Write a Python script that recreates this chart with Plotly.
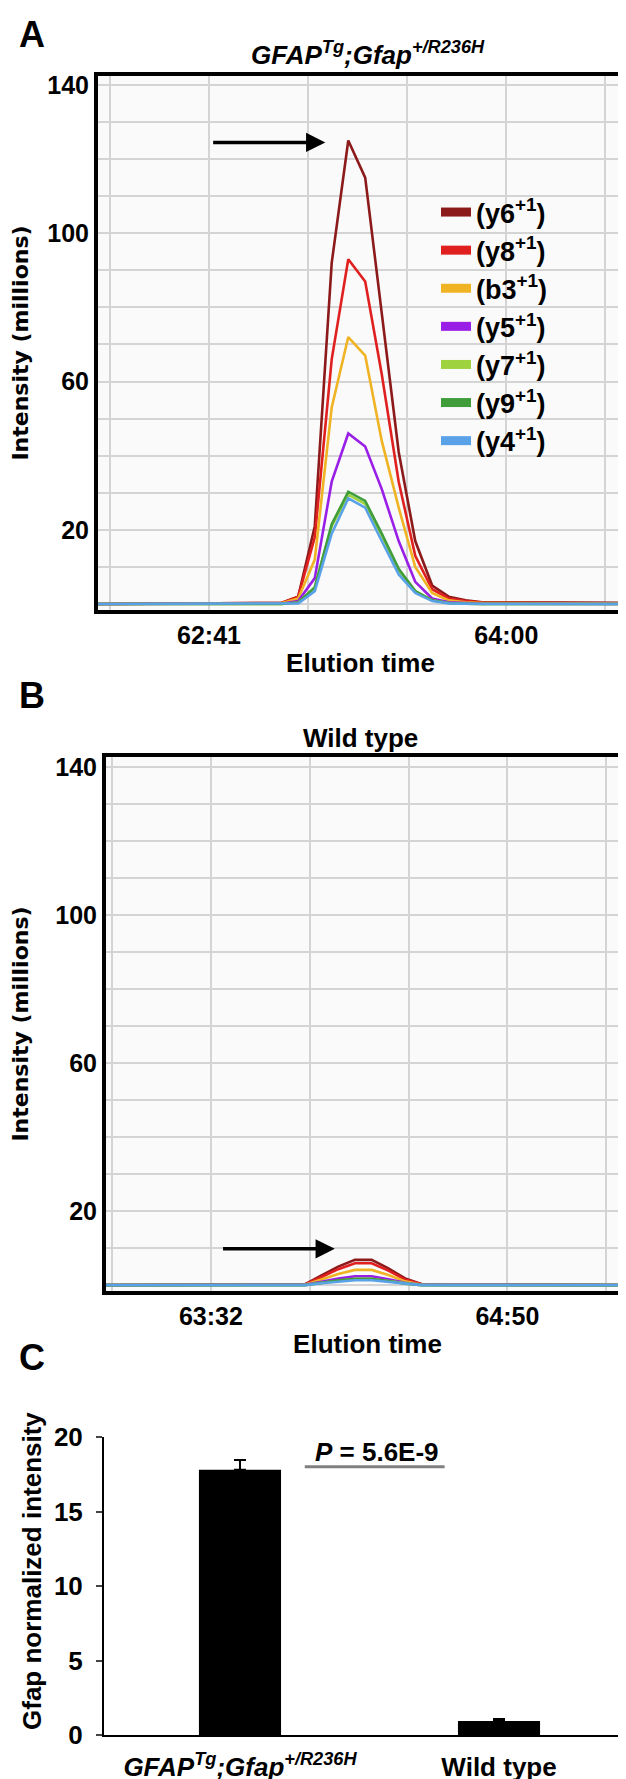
import plotly.graph_objects as go

# figure size in px (paper coords are derived from this)
W, H = 626, 1779
FONT = "Liberation Sans, Arial, Helvetica, sans-serif"
WIDE_FONT = "DejaVu Sans, Liberation Sans, Arial, sans-serif"

# --- Panel A: GFAPTg;Gfap+/R236H chromatogram (time in seconds) ---
A_TIMES = [3731.5, 3780.2, 3784.7, 3789.1, 3793.6, 3798.0, 3802.5, 3806.9,
           3811.4, 3815.8, 3820.3, 3824.7, 3829.2, 3833.6, 3871.0]
A_Y6 = [0, 0.3, 2.0, 21, 92, 125, 115, 78, 41, 17, 5, 2.0, 1.0, 0.5, 0.3]
A_Y8 = [0, 0.3, 2.0, 18, 66, 93, 87, 62, 33, 13, 4, 1.5, 0.8, 0.4, 0.2]
A_B3 = [0, 0.2, 1.5, 12, 53, 72, 67, 44, 26, 10, 3, 1.0, 0.5, 0.3, 0.1]
A_Y5 = [0, 0.1, 0.8, 7, 33, 46, 42.5, 31, 17, 6, 1.5, 0.5, 0.3, 0.1, 0]
A_Y7 = [0, 0, 0.4, 4.5, 21, 29.5, 27, 18.5, 9, 3.5, 1.0, 0.3, 0.1, 0, 0]
A_Y9 = [0, 0, 0.4, 4.5, 21.5, 30.3, 27.8, 19, 9.5, 3.5, 1.0, 0.3, 0.1, 0, 0]
A_Y4 = [0, 0, 0.2, 3.5, 19, 28.5, 26, 17, 8, 3.0, 0.8, 0.2, 0, 0, 0]

# --- Panel B: wild type chromatogram ---
B_TIMES = [3784.4, 3836.7, 3841.1, 3845.5, 3849.9, 3854.3, 3858.7, 3863.1, 3867.5, 3922.0]
B_Y6 = [0, 0.2, 2.6, 5.0, 6.8, 6.8, 4.5, 1.8, 0.2, 0]
B_Y8 = [0, 0.2, 2.2, 4.3, 5.9, 5.9, 3.9, 1.5, 0.2, 0]
B_B3 = [0, 0.1, 1.5, 3.0, 4.1, 4.1, 2.7, 1.0, 0.1, 0]
B_Y5 = [0, 0.1, 0.9, 1.8, 2.4, 2.4, 1.6, 0.6, 0.1, 0]
B_Y7 = [0, 0, 0.6, 1.2, 1.6, 1.6, 1.0, 0.4, 0, 0]
B_Y9 = [0, 0, 0.6, 1.3, 1.7, 1.7, 1.1, 0.4, 0, 0]
B_Y4 = [0, 0, 0.5, 1.0, 1.3, 1.3, 0.9, 0.3, 0, 0]

ION_NAMES = ["y6", "y8", "b3", "y5", "y7", "y9", "y4"]
ION_COLORS = ["#8c1a1a", "#e0201f", "#f0b323", "#9a1fe6", "#9fd23f", "#3f9e3a", "#5aa2e8"]

# x tick labels (seconds -> mm:ss)
A_TICKS = [3761, 3840]
A_TICKTEXT = ["62:41", "64:00"]
B_TICKS = [3812, 3890]
B_TICKTEXT = ["63:32", "64:50"]
Y_TICKS = [20, 60, 100, 140]

# --- Panel C: bar chart ---
C_GROUPS = ["<i>GFAP<sup>Tg</sup>;Gfap<sup>+/R236H</sup></i>", "Wild type"]
C_MEANS = [17.8, 0.94]
C_ERR = [0.65, 0.13]
C_PVALUE = "<i>P</i> = 5.6E-9"

GRID = "#d4d4d4"
CHROM_BG = "#fafafa"


def px(x):
    return x / W


def py(y):
    return 1 - y / H


def bold(size=26, family=FONT):
    return dict(family=family, size=size, color="black", weight="bold")


fig = go.Figure()

a_series = [A_Y6, A_Y8, A_B3, A_Y5, A_Y7, A_Y9, A_Y4]
b_series = [B_Y6, B_Y8, B_B3, B_Y5, B_Y7, B_Y9, B_Y4]

for name, color, ya in zip(ION_NAMES, ION_COLORS, a_series):
    fig.add_trace(go.Scatter(x=A_TIMES, y=ya, mode="lines", showlegend=False,
                             line=dict(color=color, width=2.6), xaxis="x", yaxis="y"))
for name, color, yb in zip(ION_NAMES, ION_COLORS, b_series):
    fig.add_trace(go.Scatter(x=B_TIMES, y=yb, mode="lines", showlegend=False,
                             line=dict(color=color, width=2.6), xaxis="x2", yaxis="y2"))

# legend swatches (thick short bars like the original)
for name, color in zip(ION_NAMES, ION_COLORS):
    fig.add_trace(go.Scatter(x=[None], y=[None], mode="lines",
                             name="(%s<sup>+1</sup>)" % name,
                             line=dict(color=color, width=9), xaxis="x", yaxis="y"))

fig.add_trace(go.Bar(x=C_GROUPS, y=C_MEANS, width=0.317, marker=dict(color="black", line=dict(width=0)),
                     error_y=dict(type="data", symmetric=False, array=C_ERR, arrayminus=[0, 0],
                                  color="black", thickness=2, width=6),
                     showlegend=False, xaxis="x3", yaxis="y3"))

chrom_x = dict(showline=True, mirror=True, linewidth=4, linecolor="black", ticks="",
               showgrid=True, gridcolor=GRID, gridwidth=1.5, zeroline=False,
               tickmode="array", tickfont=bold(25), automargin=False,
               title=dict(text="Elution time", font=bold(26), standoff=7))
chrom_y = dict(showline=True, mirror=True, linewidth=4, linecolor="black", ticks="",
               showgrid=True, gridcolor=GRID, gridwidth=1.5, zeroline=False,
               tickmode="array", tickvals=Y_TICKS,
               tickfont=bold(25), automargin=False,
               minor=dict(tick0=0, dtick=10, showgrid=True, gridcolor=GRID, gridwidth=1.5))

fig.update_layout(
    width=W, height=H,
    margin=dict(l=0, r=0, t=0, b=0),
    paper_bgcolor="white", plot_bgcolor="white",
    font=bold(26),
    xaxis=dict(chrom_x, domain=[px(90), px(615)], anchor="y", range=[3731.5, 3871.0],
               tickvals=A_TICKS, ticktext=A_TICKTEXT,
               minor=dict(tick0=3761, dtick=79 / 3, showgrid=True, gridcolor=GRID, gridwidth=1.5)),
    yaxis=dict(chrom_y, domain=[py(602), py(68)], anchor="x", range=[-1.6, 142.4],
               title=dict(text="Intensity (millions)", font=bold(22, WIDE_FONT), standoff=19)),
    xaxis2=dict(chrom_x, domain=[px(98), px(621)], anchor="y2", range=[3784.4, 3922.0],
                tickvals=B_TICKS, ticktext=B_TICKTEXT,
                minor=dict(tick0=3812, dtick=26, showgrid=True, gridcolor=GRID, gridwidth=1.5)),
    yaxis2=dict(chrom_y, domain=[py(1283), py(749)], anchor="x2", range=[-1.6, 142.7],
                title=dict(text="Intensity (millions)", font=bold(22, WIDE_FONT), standoff=23)),
    xaxis3=dict(domain=[px(96), px(620)], anchor="y3", type="category", range=[-0.525, 1.498],
                showline=True, linewidth=2, linecolor="black", ticks="", showgrid=False,
                tickfont=bold(26), ticklabelstandoff=8, automargin=False),
    yaxis3=dict(domain=[py(1727), py(1429)], anchor="x3", range=[0, 20], tickvals=[0, 5, 10, 15, 20],
                showline=True, linewidth=2, linecolor="black", ticks="outside", ticklen=6,
                tickwidth=2, showgrid=False, zeroline=False, tickfont=bold(26),
                ticklabelstandoff=8, automargin=False),
    legend=dict(x=px(428), y=py(180), xanchor="left", yanchor="top", bgcolor="rgba(0,0,0,0)",
                font=bold(27), tracegroupgap=0, itemwidth=30),
    showlegend=True,
)

# faint grey fill behind the two chromatograms only (bar chart stays white)
for ax in ["x", "x2"]:
    ay = "y" if ax == "x" else "y2"
    fig.add_shape(type="rect", xref=ax + " domain", yref=ay + " domain", x0=0, x1=1, y0=0, y1=1,
                  fillcolor=CHROM_BG, line=dict(width=0), layer="below")

# panel C y title sits a little above the axis centre in the original
fig.add_annotation(text="Gfap normalized intensity", x=px(24), y=py(1563), xref="paper", yref="paper",
                   textangle=-90, xanchor="center", yanchor="middle", showarrow=False, font=bold(26))

# panel titles and letters
fig.add_annotation(text="<i>GFAP<sup>Tg</sup>;Gfap<sup>+/R236H</sup></i>", x=px(360), y=py(46),
                   xref="paper", yref="paper", xanchor="center", yanchor="middle",
                   showarrow=False, font=bold(26))
fig.add_annotation(text="Wild type", x=px(352), y=py(730), xref="paper", yref="paper",
                   xanchor="center", yanchor="middle", showarrow=False, font=bold(26))
for letter, ly in [("A", 27), ("B", 687), ("C", 1349)]:
    fig.add_annotation(text=letter, x=px(24), y=py(ly), xref="paper", yref="paper",
                       xanchor="center", yanchor="middle", showarrow=False, font=bold(36))

# arrows pointing at the peaks
fig.add_annotation(x=3791.9, y=124.5, ax=3761.7, ay=124.5, xref="x", yref="y", axref="x", ayref="y",
                   text="", showarrow=True, arrowhead=2, arrowsize=1.1, arrowwidth=3.5,
                   arrowcolor="black", standoff=0)
fig.add_annotation(x=3844.6, y=9.8, ax=3814.8, ay=9.8, xref="x2", yref="y2", axref="x2", ayref="y2",
                   text="", showarrow=True, arrowhead=2, arrowsize=1.1, arrowwidth=3.5,
                   arrowcolor="black", standoff=0)

# p-value bracket in panel C
fig.add_shape(type="line", x0=0.25, x1=0.79, y0=18.0, y1=18.0, xref="x3", yref="y3",
              line=dict(color="#808080", width=3))
fig.add_annotation(text=C_PVALUE, x=0.53, y=19.0, xref="x3", yref="y3", xanchor="center",
                   yanchor="middle", showarrow=False, font=bold(26))

fig.write_html("out.html")
